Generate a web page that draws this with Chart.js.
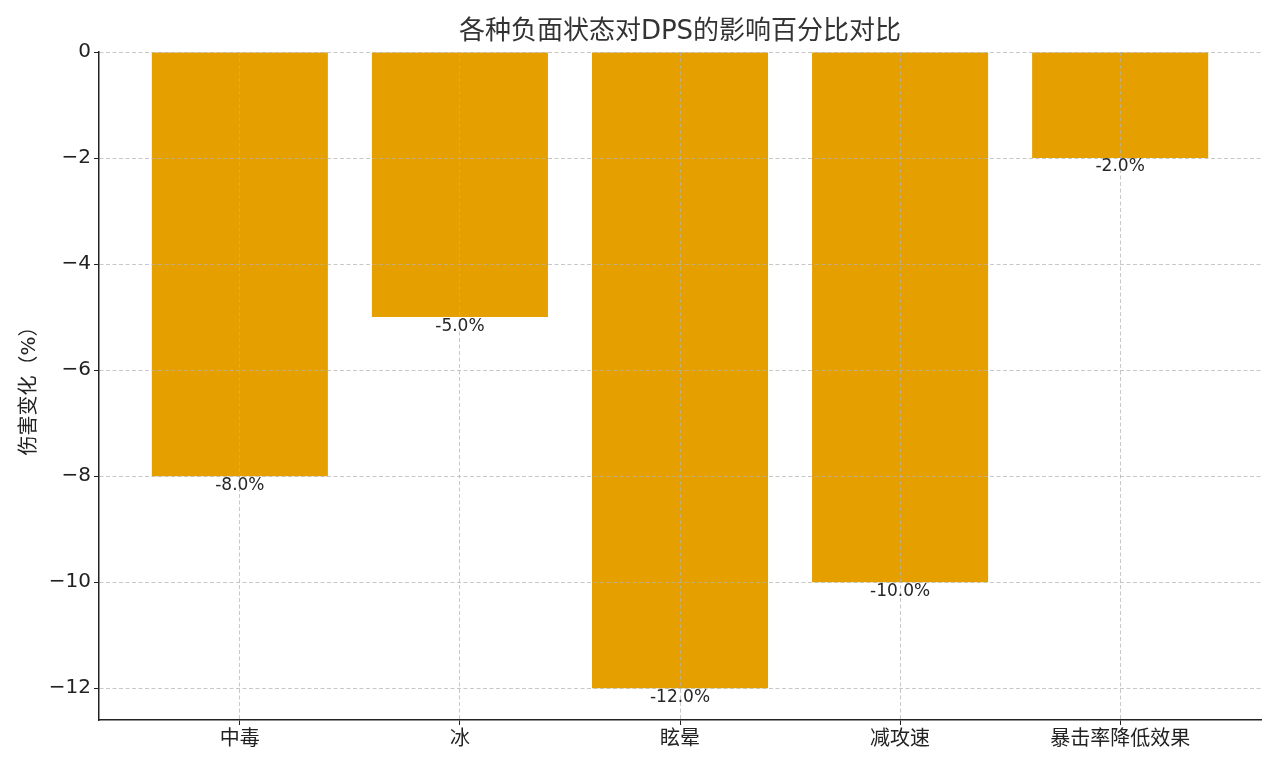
<!DOCTYPE html>
<html>
<head>
<meta charset="utf-8">
<script src="https://cdn.jsdelivr.net/npm/chart.js@4"></script>
<style>
  html, body { margin: 0; padding: 0; background: #fff; }
  #wrap { width: 1280px; height: 768px; }
</style>
</head>
<body>
<div id="wrap"><canvas id="dpsChart" width="1280" height="768"></canvas></div>
<script>
// data
const categories = ['中毒', '冰', '眩晕', '减攻速', '暴击率降低效果'];
const dpsChange = [-8, -5, -12, -10, -2];
const yTicks = [0, -2, -4, -6, -8, -10, -12];

const FONT = '"DejaVu Sans", "Noto Sans CJK SC", sans-serif';
const BAR = '#e5a000';
const GRID = 'rgba(176,176,176,0.7)';

// title + value labels drawn on top of the bars
const labelPlugin = {
  id: 'labels',
  afterDraw(chart) {
    const ctx = chart.ctx;
    const x = chart.scales.x, y = chart.scales.y;
    ctx.save();
    ctx.fillStyle = '#333';
    ctx.font = '26px ' + FONT;
    ctx.textAlign = 'center';
    ctx.textBaseline = 'middle';
    ctx.fillText('各种负面状态对DPS的影响百分比对比', (chart.chartArea.left + chart.chartArea.right) / 2, 32);

    ctx.fillStyle = '#262626';
    ctx.font = '17px ' + FONT;
    dpsChange.forEach((v, i) => {
      ctx.fillText(v.toFixed(1) + '%', x.getPixelForValue(i), y.getPixelForValue(v) + 9);
    });
    ctx.restore();
  }
};

const ctx = document.getElementById('dpsChart').getContext('2d');
new Chart(ctx, {
  type: 'bar',
  data: {
    datasets: [{
      data: dpsChange.map((v, i) => ({ x: i, y: v })),
      backgroundColor: BAR,
      borderWidth: 0,
      categoryPercentage: 0.8,
      barPercentage: 1.0
    }]
  },
  options: {
    responsive: false,
    animation: false,
    layout: { padding: { top: 52, right: 19, left: 0, bottom: 0 } },
    plugins: {
      legend: { display: false },
      tooltip: { enabled: false },
      title: { display: false }
    },
    scales: {
      x: {
        type: 'linear',
        min: -0.64,
        max: 4.64,
        offset: false,
        afterBuildTicks: scale => { scale.ticks = categories.map((c, i) => ({ value: i })); },
        afterFit: scale => { scale.height = 48; },
        ticks: {
          callback: v => categories[v],
          color: '#222',
          font: { family: FONT, size: 20 },
          padding: 3,
          maxRotation: 0,
          autoSkip: false
        },
        grid: { z: 1, offset: false, color: GRID, tickColor: '#222', tickLength: 5, lineWidth: 1 },
        border: { z: 2, display: true, color: '#222', width: 1.5, dash: [4, 2.5] }
      },
      y: {
        min: -12.6,
        max: 0,
        afterBuildTicks: scale => { scale.ticks = yTicks.map(v => ({ value: v })); },
        afterFit: scale => { scale.width = 99; },
        ticks: {
          callback: v => v < 0 ? '\u2212' + Math.abs(v) : String(v),
          color: '#222',
          font: { family: FONT, size: 20 },
          padding: 3
        },
        title: {
          display: true,
          text: '伤害变化（%）',
          color: '#222',
          font: { family: FONT, size: 20 },
          padding: { top: 18, bottom: 0 }
        },
        grid: { z: 1, color: GRID, tickColor: '#222', tickLength: 5, lineWidth: 1 },
        border: { z: 2, display: true, color: '#222', width: 1.5, dash: [4, 2.5] }
      }
    }
  },
  plugins: [labelPlugin]
});
</script>
</body>
</html>
